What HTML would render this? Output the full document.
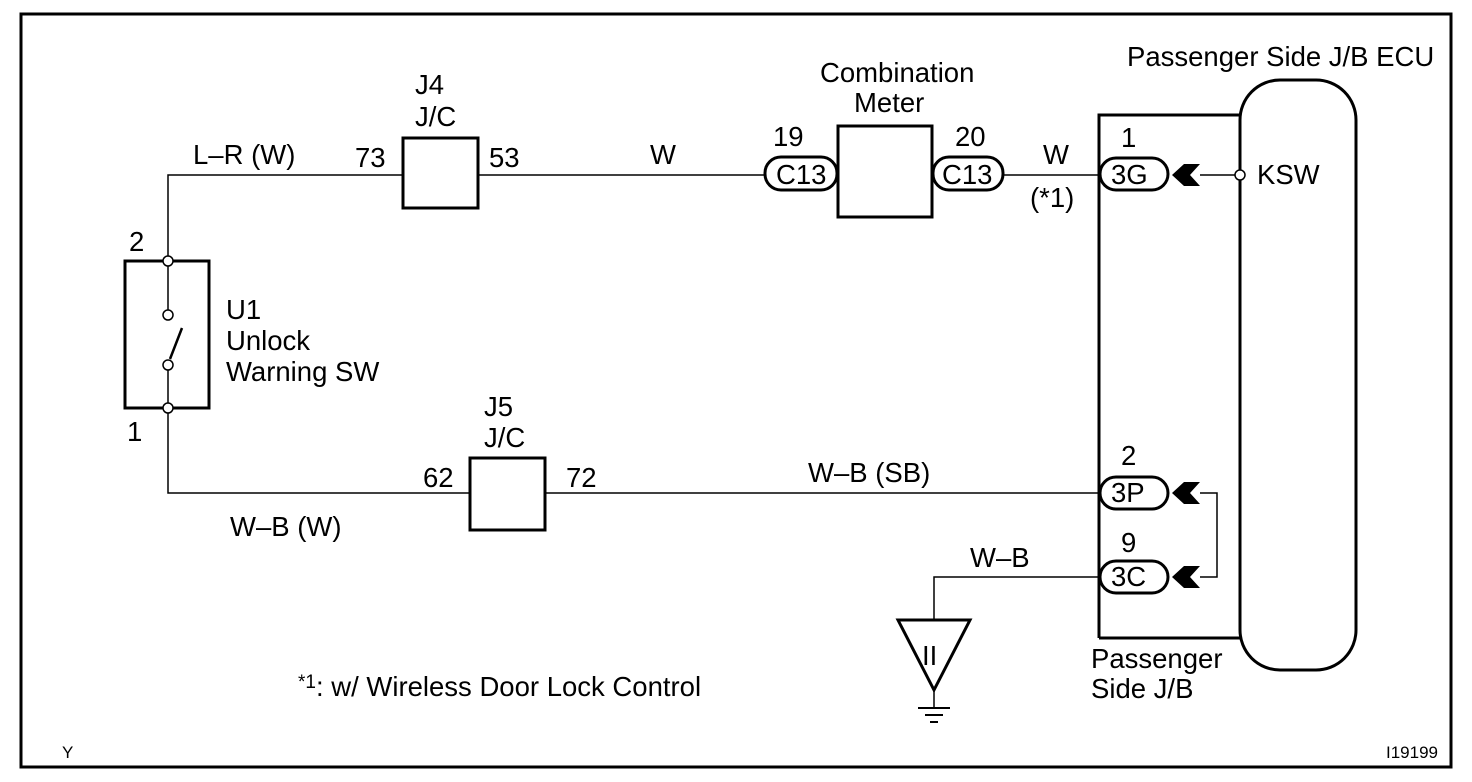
<!DOCTYPE html>
<html><head><style>body{margin:0;background:#fff}svg{display:block}text{font-family:"Liberation Sans",Arial,sans-serif;font-size:27.5px;fill:#000}</style></head>
<body>
<svg width="1472" height="782" viewBox="0 0 1472 782" xmlns="http://www.w3.org/2000/svg">
<rect x="21" y="14" width="1430" height="753" fill="none" stroke="#000" stroke-width="3"/>
<g stroke="#000" fill="none" stroke-width="1.5">
<polyline points="168,261 168,175 1100,175"/>
<line x1="1200" y1="175" x2="1235" y2="175"/>
<polyline points="168,408 168,493 1100,493"/>
<polyline points="1100,577 934,577 934,620"/>
<polyline points="1200,493 1217,493 1217,577 1200,577"/>
<line x1="934" y1="690" x2="934" y2="708"/>
</g>
<g stroke="#000" fill="#fff" stroke-width="3">
<rect x="125" y="261" width="84" height="147"/>
<rect x="403" y="138" width="75" height="70"/>
<rect x="470" y="458" width="75" height="72"/>
<rect x="838" y="126" width="94" height="91"/>
<polyline points="1099,638 1099,115 1240,115" fill="none"/>
<line x1="1099" y1="638" x2="1240" y2="638"/>
<rect x="1240" y="80" width="116" height="590" rx="40"/>
<rect x="765" y="157" width="72" height="33" rx="16"/>
<rect x="933" y="157" width="70" height="33" rx="16"/>
<rect x="1100" y="158" width="68" height="32" rx="16"/>
<rect x="1100" y="477" width="68" height="32" rx="16"/>
<rect x="1100" y="561" width="68" height="32" rx="16"/>
<polygon points="898,620 970,620 934,690"/>
</g>
<g stroke="#000" stroke-width="1.5">
<line x1="168" y1="261" x2="168" y2="315"/>
<line x1="168" y1="365" x2="168" y2="408"/>
</g>
<g stroke="#000" fill="#fff" stroke-width="1.5">
<circle cx="168" cy="261" r="5"/><circle cx="168" cy="315" r="5"/><circle cx="168" cy="365" r="5"/><circle cx="168" cy="408" r="5"/>
<circle cx="1240" cy="175" r="5"/>
</g>
<line x1="170" y1="359" x2="182" y2="328" stroke="#000" stroke-width="2.5"/>
<g fill="#000">
<polygon points="1172,175 1184,164 1200,164 1190,175 1200,186 1184,186"/>
<polygon points="1172,493 1184,482 1200,482 1190,493 1200,504 1184,504"/>
<polygon points="1172,577 1184,566 1200,566 1190,577 1200,588 1184,588"/>
</g>
<g stroke="#000" stroke-width="2">
<line x1="918" y1="708" x2="950" y2="708"/><line x1="925" y1="715" x2="943" y2="715"/><line x1="930" y1="722" x2="938" y2="722"/>
</g>
<text x="193" y="164">L–R (W)</text>
<text x="355" y="167">73</text>
<text x="489" y="167">53</text>
<text x="415" y="94">J4</text>
<text x="415" y="126">J/C</text>
<text x="650" y="164">W</text>
<text x="820" y="82">Combination</text>
<text x="854" y="112">Meter</text>
<text x="773" y="146">19</text>
<text x="955" y="146">20</text>
<text x="776" y="184">C13</text>
<text x="942" y="184">C13</text>
<text x="1043" y="164">W</text>
<text x="1030" y="207">(*1)</text>
<text x="1127" y="66">Passenger Side J/B ECU</text>
<text x="1121" y="147">1</text>
<text x="1111" y="184">3G</text>
<text x="1257" y="184">KSW</text>
<text x="129" y="251">2</text>
<text x="127" y="441">1</text>
<text x="226" y="319">U1</text>
<text x="226" y="350">Unlock</text>
<text x="226" y="381">Warning SW</text>
<text x="484" y="416">J5</text>
<text x="484" y="447">J/C</text>
<text x="423" y="487">62</text>
<text x="566" y="487">72</text>
<text x="808" y="482">W–B (SB)</text>
<text x="230" y="536">W–B (W)</text>
<text x="1121" y="465">2</text>
<text x="1111" y="502">3P</text>
<text x="1121" y="552">9</text>
<text x="1111" y="586">3C</text>
<text x="970" y="567">W–B</text>
<text x="922" y="665">II</text>
<text x="1091" y="668">Passenger</text>
<text x="1091" y="698">Side J/B</text>
<text x="298" y="696"><tspan font-size="19" dy="-8">*1</tspan><tspan dy="8">: w/ Wireless Door Lock Control</tspan></text>
<text x="62" y="758" style="font-size:17px">Y</text>
<text x="1386" y="758" style="font-size:17px">I19199</text>
</svg>
</body></html>
